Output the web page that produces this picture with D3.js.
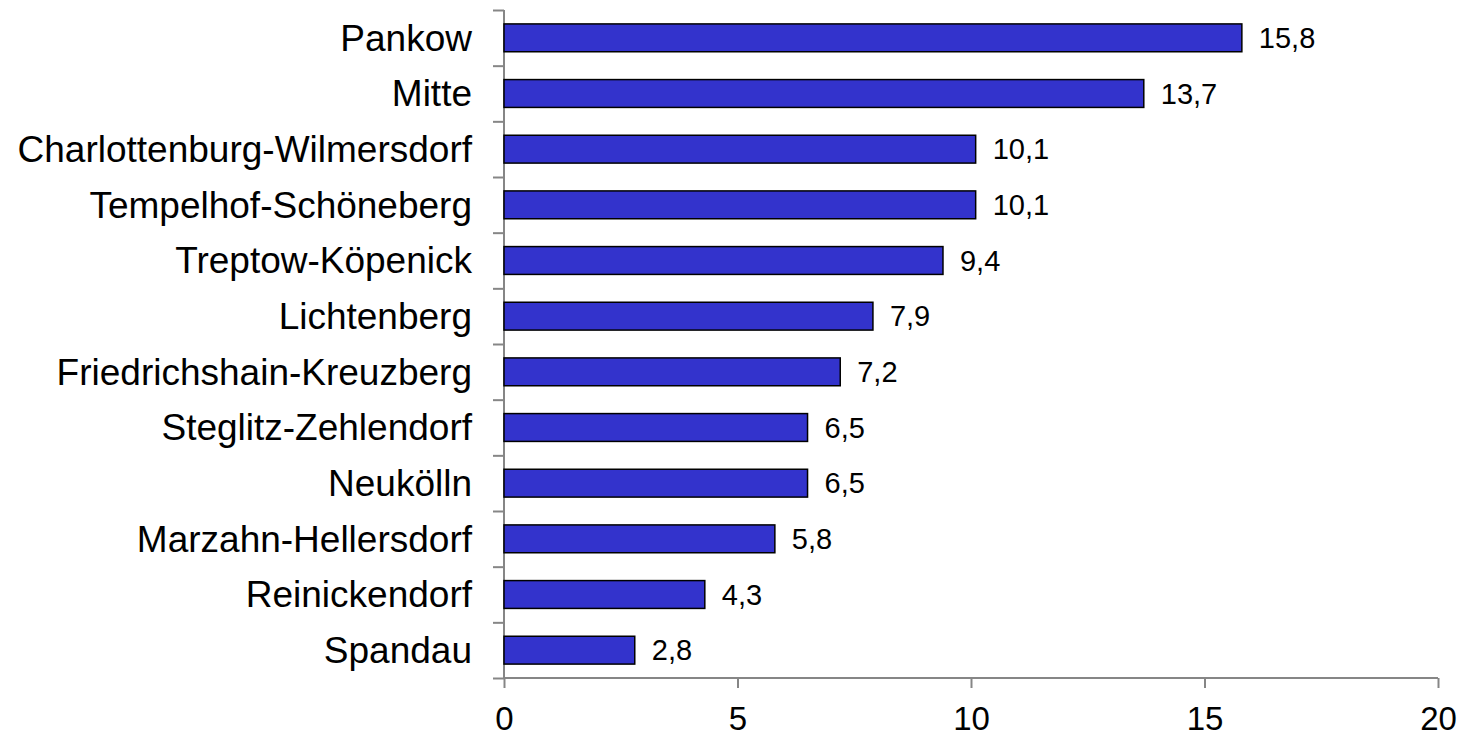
<!DOCTYPE html>
<html>
<head>
<meta charset="utf-8">
<script src="https://cdn.jsdelivr.net/npm/d3@7"></script>
<style>
    body { margin: 0; background: #fff; }
    svg { display: block; font-family: "Liberation Sans", Arial, sans-serif; }
    .axis path, .axis line { stroke: #868686; stroke-width: 2; }
    .bar { fill: #3333cc; stroke: #000; stroke-width: 1.5; }
    .cat-label { font-size: 37px; fill: #000; }
    .val-label { font-size: 29px; fill: #000; }
    .x.axis text { font-size: 33px; fill: #000; }
</style>
</head>
<body>
<svg id="chart" width="1462" height="738">
    <g class="chart">
        <g class="x axis"></g>
        <g class="y axis"></g>
        <g class="bars"></g>
        <g class="labels"></g>
        <g class="values"></g>
    </g>
</svg>
<script>
    /*global d3*/
    const districts = ['Pankow', 'Mitte', 'Charlottenburg-Wilmersdorf', 'Tempelhof-Schöneberg',
        'Treptow-Köpenick', 'Lichtenberg', 'Friedrichshain-Kreuzberg', 'Steglitz-Zehlendorf',
        'Neukölln', 'Marzahn-Hellersdorf', 'Reinickendorf', 'Spandau'];
    const shares = [15.8, 13.7, 10.1, 10.1, 9.4, 7.9, 7.2, 6.5, 6.5, 5.8, 4.3, 2.8];
    const xTicks = [0, 5, 10, 15, 20];

    const margin = {top: 10, right: 24, bottom: 60, left: 504};
    const width = 1462 - margin.left - margin.right;
    const height = 738 - margin.top - margin.bottom;

    const data = districts.map((name, i) => ({name: name, value: shares[i]}));
    const fmt = v => d3.format('.1f')(v).replace('.', ',');

    const xScale = d3.scaleLinear().domain([0, 20]).range([0, width]);
    const yScale = d3.scaleBand().domain(districts).range([0, height])
        .paddingInner(0.5).paddingOuter(0.25);
    // boundaries between the categories, for the y tick marks
    const yEdges = d3.scaleLinear().domain([0, districts.length]).range([0, height]);

    const chart = d3.select('#chart').select('.chart')
        .attr('transform', 'translate(' + margin.left + ',' + margin.top + ')');

    chart.select('.x.axis')
        .attr('transform', 'translate(0,' + height + ')')
        .call(d3.axisBottom(xScale).tickValues(xTicks).tickSize(10).tickSizeOuter(0))
        .call(g => g.selectAll('text').attr('y', 52).attr('dy', 0))
        .call(g => g.select('.domain').attr('d', 'M0,0H' + width));

    chart.select('.y.axis')
        .call(d3.axisLeft(yEdges).tickValues(d3.range(districts.length + 1))
            .tickFormat('').tickSize(11).tickSizeOuter(0))
        .call(g => g.select('.domain').attr('d', 'M0,0V' + height));

    chart.select('.bars').selectAll('rect').data(data)
        .enter().append('rect')
            .attr('class', 'bar')
            .attr('x', 0)
            .attr('y', d => yScale(d.name))
            .attr('width', d => xScale(d.value))
            .attr('height', yScale.bandwidth());

    chart.select('.labels').selectAll('text').data(data)
        .enter().append('text')
            .attr('class', 'cat-label')
            .attr('x', -32)
            .attr('y', d => yScale(d.name) + yScale.bandwidth() / 2)
            .attr('dy', '0.35em')
            .attr('text-anchor', 'end')
            .text(d => d.name);

    chart.select('.values').selectAll('text').data(data)
        .enter().append('text')
            .attr('class', 'val-label')
            .attr('x', d => xScale(d.value) + 17)
            .attr('y', d => yScale(d.name) + yScale.bandwidth() / 2)
            .attr('dy', '0.35em')
            .text(d => fmt(d.value));
</script>
</body>
</html>
